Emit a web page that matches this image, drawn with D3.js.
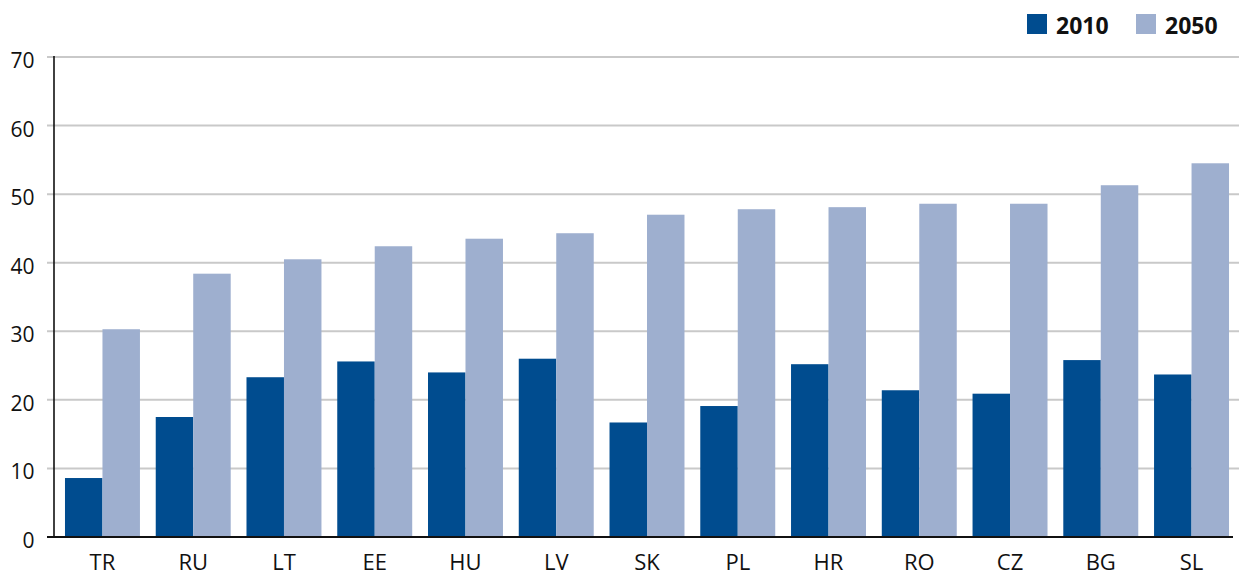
<!DOCTYPE html>
<html>
<head>
<meta charset="utf-8">
<script src="https://cdn.jsdelivr.net/npm/d3@7"></script>
<style>
  html, body { margin: 0; padding: 0; background: #fff; }
  svg { display: block; }
  text { font-family: "Open Sans", "Noto Sans", sans-serif; fill: #111; }
</style>
</head>
<body>
<svg id="chart" width="1239" height="577"></svg>
<script>
const categories = ["TR","RU","LT","EE","HU","LV","SK","PL","HR","RO","CZ","BG","SL"];
const seriesNames = ["2010","2050"];
const values2010 = [8.6, 17.5, 23.3, 25.6, 24.0, 26.0, 16.7, 19.1, 25.2, 21.4, 20.9, 25.8, 23.7];
const values2050 = [30.3, 38.4, 40.5, 42.4, 43.5, 44.3, 47.0, 47.8, 48.1, 48.6, 48.6, 51.3, 54.5];
const yTicks = [0, 10, 20, 30, 40, 50, 60, 70];
const colors = ["#004c8f", "#9eafcf"];

const svg = d3.select("#chart");
const axisX = 54, yBottom = 537, yTop = 57;

const y = d3.scaleLinear().domain([0, 70]).range([yBottom, yTop]);
const x0 = d3.scaleBand().domain(categories).range([axisX, 1240]).paddingInner(0.174).paddingOuter(0.121);
const x1 = d3.scaleBand().domain(seriesNames).range([0, x0.bandwidth()]).padding(0);

// gridlines
svg.append("g").selectAll("line").data(yTicks.filter(t => t > 0)).join("line")
  .attr("x1", 47).attr("x2", 1239)
  .attr("y1", d => y(d)).attr("y2", d => y(d))
  .attr("stroke", "#c9c9c9").attr("stroke-width", 2);

// y tick labels
svg.append("g").selectAll("text").data(yTicks).join("text")
  .attr("x", 34.5).attr("y", d => y(d) + 11)
  .attr("text-anchor", "end")
  .style("font-size", "21px")
  .text(d => d);

// bars
const data = categories.map((c, i) => ({ cat: c, vals: [values2010[i], values2050[i]] }));
const groups = svg.append("g").selectAll("g").data(data).join("g")
  .attr("transform", d => `translate(${x0(d.cat)},0)`);
groups.selectAll("rect").data(d => d.vals.map((v, j) => ({ key: seriesNames[j], v, j }))).join("rect")
  .attr("x", d => x1(d.key))
  .attr("width", x1.bandwidth())
  .attr("y", d => y(d.v))
  .attr("height", d => yBottom - y(d.v))
  .attr("fill", d => colors[d.j]);

// axes lines
svg.append("line").attr("x1", axisX).attr("x2", axisX).attr("y1", yTop - 1).attr("y2", yBottom)
  .attr("stroke", "#111").attr("stroke-width", 1.6);
svg.append("line").attr("x1", 47).attr("x2", 1233).attr("y1", yBottom).attr("y2", yBottom)
  .attr("stroke", "#111").attr("stroke-width", 2);

// x labels
svg.append("g").selectAll("text").data(categories).join("text")
  .attr("x", d => x0(d) + x0.bandwidth() / 2)
  .attr("y", 570)
  .attr("text-anchor", "middle")
  .style("font-size", "22px")
  .text(d => d);

// legend
const legendItems = [{ name: seriesNames[0], color: colors[0], x: 1027 }, { name: seriesNames[1], color: colors[1], x: 1136 }];
const lg = svg.append("g").selectAll("g").data(legendItems).join("g")
  .attr("transform", d => `translate(${d.x},14)`);
lg.append("rect").attr("width", 20).attr("height", 20).attr("fill", d => d.color);
lg.append("text").attr("x", 29).attr("y", 19.5)
  .style("font-size", "23px").style("font-weight", "bold")
  .text(d => d.name);
</script>
</body>
</html>
